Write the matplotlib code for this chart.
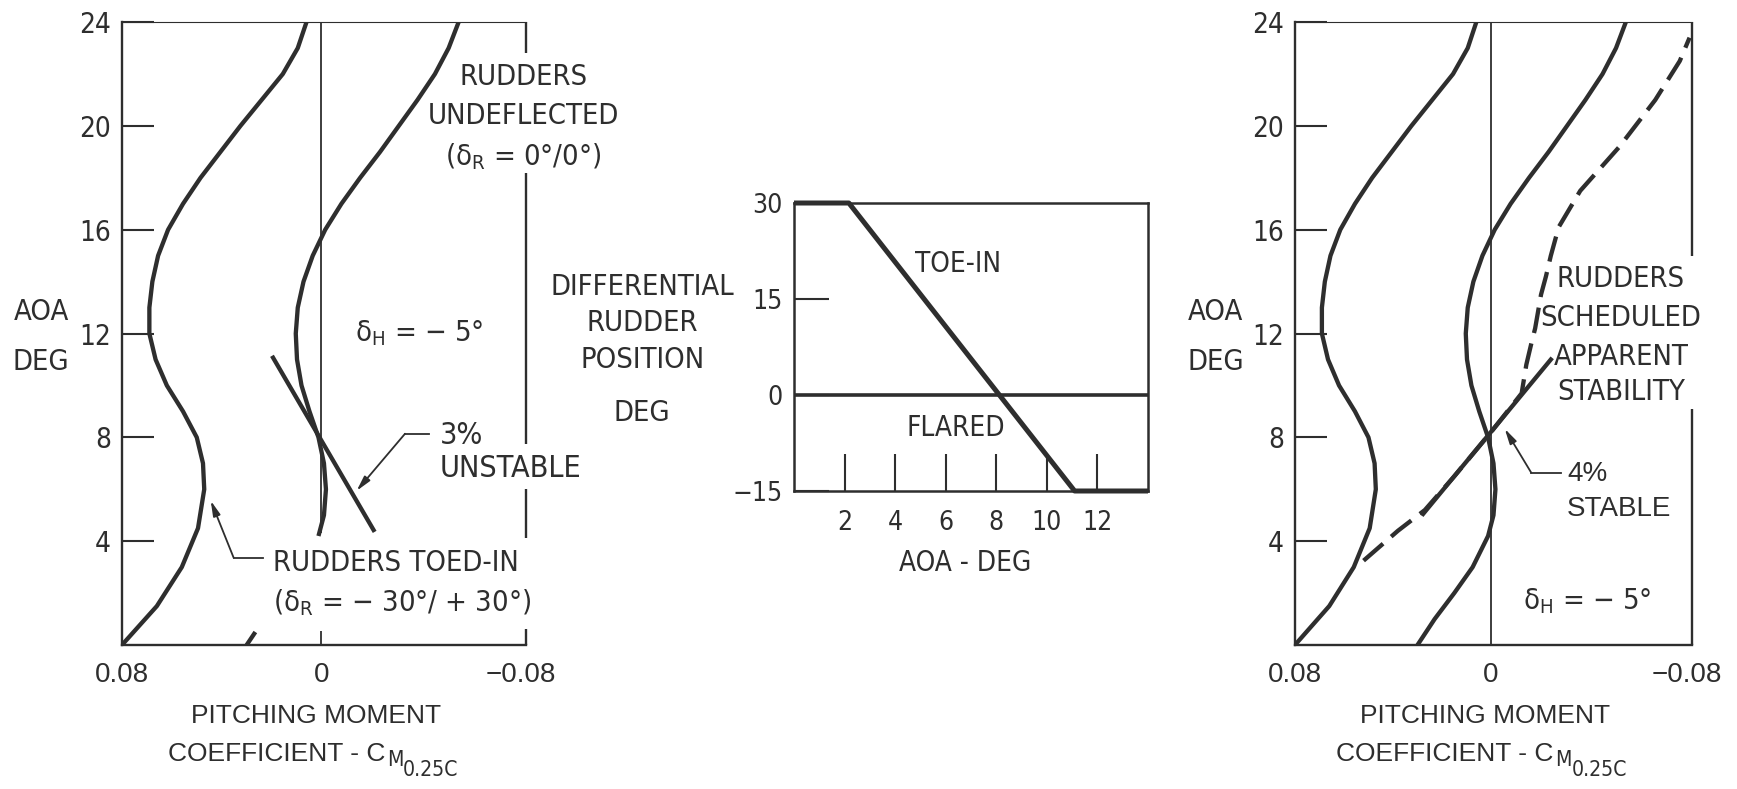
import numpy as np
import matplotlib
matplotlib.use('Agg')
import matplotlib.pyplot as plt
from matplotlib import font_manager

# pitching moment vs AOA, rudders toed-in (-30/+30)
aoa_toed = [0, 1.5, 3, 4.5, 6, 7, 8, 9, 10, 11, 12, 13, 14, 15, 16, 17, 18,
            19, 20, 21, 22, 23, 24]
cm_toed = [0.080, 0.066, 0.056, 0.0495, 0.047, 0.0475, 0.050, 0.0555, 0.062,
           0.0665, 0.069, 0.069, 0.0678, 0.0655, 0.0615, 0.0555, 0.0485, 0.0405,
           0.0325, 0.024, 0.0155, 0.0095, 0.006]

# rudders undeflected (0/0)
aoa_undef = [0, 0.5, 1, 2, 3, 4.2, 5, 6, 7, 8, 9, 10, 11, 12, 13, 14, 15, 16,
             17, 18, 19, 20, 21, 22, 23, 24]
cm_undef = [0.030, 0.0265, 0.023, 0.015, 0.0075, 0.0012, -0.001, -0.0018,
            -0.001, 0.0012, 0.0048, 0.008, 0.0098, 0.0103, 0.0095, 0.0072,
            0.0035, -0.0015, -0.008, -0.0155, -0.0235, -0.031, -0.0385,
            -0.0455, -0.051, -0.055]

# rudders scheduled with AOA (dashed)
aoa_sched = [3.25, 4.4, 5.2, 6.5, 8.2, 9.7, 10.8, 11.6, 12.2, 13.5, 14.2, 15.0,
             16.1, 17.5, 19.2, 21.0, 22.5, 23.4]
cm_sched = [0.052, 0.038, 0.027, 0.015, 0.0, -0.0125, -0.0144, -0.0164, -0.018,
            -0.0204, -0.0224, -0.0244, -0.0276, -0.0364, -0.0524, -0.067,
            -0.077, -0.081]

# slope lines
aoa_unstable = [4.43, 11.07]
cm_unstable = [-0.0209, 0.0194]
aoa_stable = [5.05, 11.0]
cm_stable = [0.0277, -0.0244]

# differential rudder schedule
aoa_rudder = [0, 2.17, 11.1, 14]
rudder_pos = [30, 30, -15, -15]

cm_ticks = [0.08, 0, -0.08]
cm_labels = ['0.08', '0', '\u22120.08']
aoa_ticks = [4, 8, 12, 16, 20, 24]
mid_xticks = [2, 4, 6, 8, 10, 12]
mid_yticks = [-15, 0, 15, 30]
mid_ylabels = ['\u221215', '0', '15', '30']

# pick a narrow face for the lettering if one is around
faces = {(f.name, f.stretch) for f in font_manager.fontManager.ttflist}
if any(n == 'Liberation Sans Narrow' for n, _ in faces):
    NARROW, STRETCH, NS = 'Liberation Sans Narrow', 'normal', 1.0
elif ('DejaVu Sans', 'condensed') in faces or ('DejaVu Sans', 'semi-condensed') in faces:
    NARROW, STRETCH, NS = 'DejaVu Sans', 'condensed', 0.95
else:
    NARROW, STRETCH, NS = 'DejaVu Sans', 'normal', 0.88
WIDE = 'Liberation Sans'

plt.rcParams['mathtext.fontset'] = 'custom'
plt.rcParams['mathtext.rm'] = NARROW
plt.rcParams['mathtext.it'] = NARROW
plt.rcParams['mathtext.default'] = 'regular'

INK = '#2e2e2e'
LW = 3.1

fig = plt.figure(figsize=(17.37, 7.89), dpi=100)


def narrow(size):
    return dict(family=[NARROW, 'DejaVu Sans'], stretch=STRETCH,
                size=size * NS, color=INK)


def wide(size):
    return dict(family=[WIDE, 'DejaVu Sans'], size=size, color=INK)


def side_axes(rect, right_gaps):
    ax = fig.add_axes(rect)
    ax.set_xlim(0.08, -0.082)
    ax.set_ylim(0, 24)
    ax.patch.set_alpha(0)
    ax.spines['right'].set_visible(False)
    ax.spines['top'].set_linewidth(0.8)
    for s in ('left', 'bottom'):
        ax.spines[s].set_linewidth(1.7)
    for s in ax.spines.values():
        s.set_color(INK)
    ax.set_yticks(aoa_ticks)
    ax.tick_params(axis='y', direction='in', length=23, width=1.5, pad=8,
                   color=INK)
    for lab in ax.get_yticklabels():
        lab.set(**narrow(21))
    ax.set_xticks(cm_ticks)
    ax.set_xticklabels(cm_labels)
    ax.tick_params(axis='x', length=0, pad=12)
    for lab in ax.get_xticklabels():
        lab.set(**wide(20))
    # right border drawn in pieces so the labels can sit across it
    for lo, hi in right_gaps:
        ax.vlines(1, lo, hi, transform=ax.get_yaxis_transform(),
                  color=INK, lw=1.7, clip_on=False)
    ax.text(-0.20, 0.535, 'AOA', transform=ax.transAxes, ha='center',
            va='center', **narrow(22))
    ax.text(-0.20, 0.455, 'DEG', transform=ax.transAxes, ha='center',
            va='center', **narrow(22))
    ax.text(0.48, -0.125, 'PITCHING MOMENT', transform=ax.transAxes,
            ha='center', va='baseline', **wide(19))
    # C with stacked subscripts M and 0.25C
    coef = ax.text(0.652, -0.186, 'COEFFICIENT - C', transform=ax.transAxes,
                   ha='right', va='baseline', **wide(19))
    sub = ax.annotate('M', xy=(1, 0), xycoords=coef, xytext=(1, 0),
                      textcoords='offset points', ha='left', va='baseline',
                      **narrow(16))
    ax.annotate('0.25C', xy=(1, 0), xycoords=sub, xytext=(0, -4.4),
                textcoords='offset points', ha='left', va='baseline',
                **narrow(16))
    return ax


def leader(ax, text_end, knee, tip):
    ax.plot([text_end[0], knee[0]], [text_end[1], knee[1]], color=INK, lw=1.3)
    ax.annotate('', xy=tip, xytext=knee,
                arrowprops=dict(arrowstyle='-|>,head_length=0.9,head_width=0.22',
                                color=INK, lw=1.3, shrinkA=0, shrinkB=0))


# ---- left: toed-in vs undeflected ----
ax1 = side_axes([0.0702, 0.1825, 0.2326, 0.7895],
                [(22.8, 24), (7.75, 18.2), (4.13, 6.0), (0, 0.6)])
ax1.vlines(0, 4.3, 24, color=INK, lw=1.3)
ax1.vlines(0, 0, 0.55, color=INK, lw=1.3)
ax1.plot(cm_toed, aoa_toed, color=INK, lw=LW, solid_capstyle='butt')
u = np.array(aoa_undef)
c = np.array(cm_undef)
ax1.plot(c[u <= 0.5], u[u <= 0.5], color=INK, lw=LW, solid_capstyle='butt')
ax1.plot(c[u >= 4.2], u[u >= 4.2], color=INK, lw=LW, solid_capstyle='butt')
ax1.plot(cm_unstable, aoa_unstable, color=INK, lw=LW)

ax1.text(-0.081, 21.9, 'RUDDERS', ha='center', va='center', **narrow(22))
ax1.text(-0.081, 20.4, 'UNDEFLECTED', ha='center', va='center', **narrow(22))
ax1.text(-0.081, 18.8, '(\u03b4$_R$ = 0\u00b0/0\u00b0)', ha='center',
         va='center', **narrow(22))
ax1.text(-0.0392, 12.0, '\u03b4$_H$ = \u2212 5\u00b0', ha='center', va='center',
         **narrow(22))
ax1.text(-0.0473, 8.06, '3%', ha='left', va='center', **narrow(23))
ax1.text(-0.0473, 6.8, 'UNSTABLE', ha='left', va='center', **narrow(23))
leader(ax1, (-0.0432, 8.14), (-0.0335, 8.14), (-0.0141, 5.94))
ax1.text(0.0194, 3.16, 'RUDDERS TOED-IN', ha='left', va='center',
         **narrow(22))
ax1.text(0.0194, 1.62, '(\u03b4$_R$ = \u2212 30\u00b0/ + 30\u00b0)', ha='left',
         va='center', **narrow(22))
leader(ax1, (0.0234, 3.36), (0.0352, 3.36), (0.0444, 5.56))

# ---- middle: rudder schedule ----
ax2 = fig.add_axes([0.4571, 0.3777, 0.2038, 0.3650])
ax2.set_xlim(0, 14)
ax2.set_ylim(-15, 30)
for s in ax2.spines.values():
    s.set_linewidth(1.8)
    s.set_color(INK)
ax2.axhline(0, color=INK, lw=2.6)
ax2.plot(aoa_rudder, rudder_pos, color=INK, lw=3.6, solid_capstyle='butt',
         clip_on=False)
ax2.set_xticks(mid_xticks)
ax2.tick_params(axis='x', direction='in', length=27, width=1.5, pad=14,
                color=INK)
ax2.set_yticks(mid_yticks)
ax2.set_yticklabels(mid_ylabels)
ax2.tick_params(axis='y', direction='in', length=25, width=1.5, pad=8,
                color=INK)
for lab in ax2.get_xticklabels() + ax2.get_yticklabels():
    lab.set(**narrow(20))
ax2.text(6.5, 20.4, 'TOE-IN', ha='center', va='center', **narrow(21))
ax2.text(6.4, -5.2, 'FLARED', ha='center', va='center', **narrow(21))
for frac_y, word in [(0.708, 'DIFFERENTIAL'), (0.583, 'RUDDER'),
                     (0.455, 'POSITION'), (0.271, 'DEG')]:
    ax2.text(-0.429, frac_y, word, transform=ax2.transAxes, ha='center',
             va='center', **narrow(22))
ax2.text(0.483, -0.25, 'AOA - DEG', transform=ax2.transAxes, ha='center',
         va='center', **narrow(21))

# ---- right: scheduled rudders ----
ax3 = side_axes([0.7455, 0.1825, 0.2286, 0.7895], [(15.0, 24), (0, 9.1)])
ax3.vlines(0, 0, 24, color=INK, lw=1.3)
ax3.plot(cm_toed, aoa_toed, color=INK, lw=LW, solid_capstyle='butt')
ax3.plot(cm_undef, aoa_undef, color=INK, lw=LW, solid_capstyle='butt')
ax3.plot(cm_stable, aoa_stable, color=INK, lw=LW)
ax3.plot(cm_sched, aoa_sched, color=INK, lw=LW, linestyle=(0, (6, 2.5)),
         clip_on=False)

for y, word in [(14.1, 'RUDDERS'), (12.6, 'SCHEDULED'), (11.1, 'APPARENT'),
                (9.75, 'STABILITY')]:
    ax3.text(-0.053, y, word, ha='center', va='center', **narrow(22))
ax3.text(-0.031, 6.6, '4%', ha='left', va='center', **wide(20))
ax3.text(-0.031, 5.25, 'STABLE', ha='left', va='center', **wide(20))
leader(ax3, (-0.0285, 6.64), (-0.0164, 6.64), (-0.0056, 8.33))
ax3.text(-0.0392, 1.7, '\u03b4$_H$ = \u2212 5\u00b0', ha='center',
         va='center', **narrow(22))

fig.savefig('out.png', dpi=100, facecolor='white')
